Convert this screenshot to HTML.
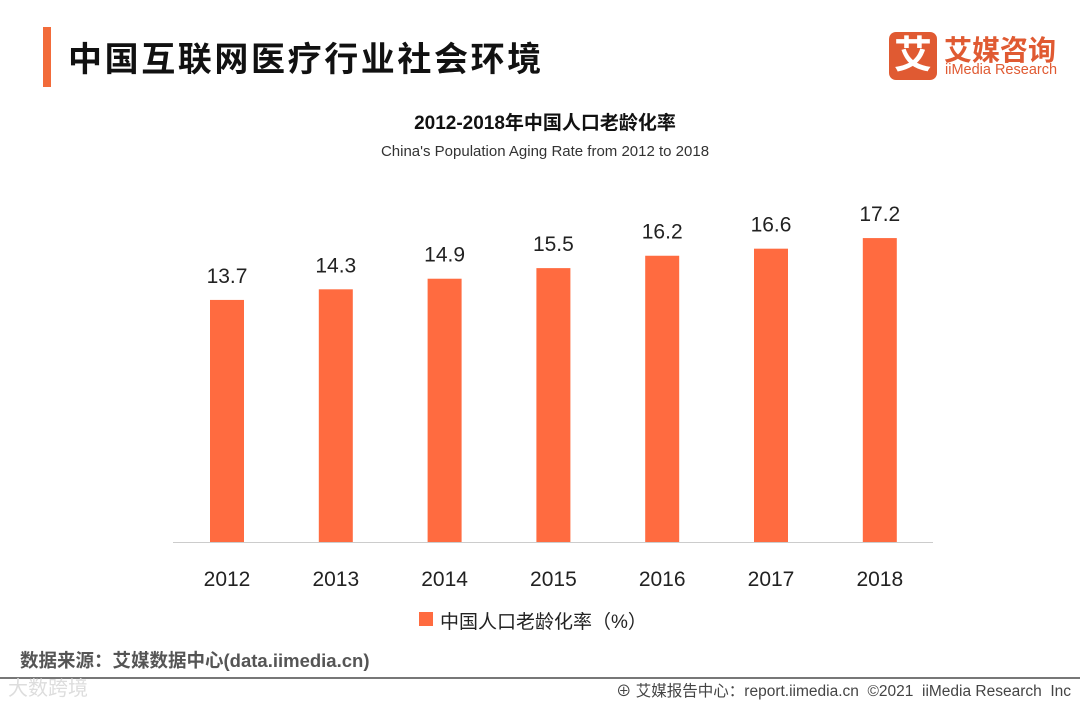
<!DOCTYPE html>
<html><head><meta charset="utf-8"><style>
body{margin:0;width:1080px;height:702px;background:#fff;position:relative;overflow:hidden;font-family:"Liberation Sans","Noto Sans CJK SC",sans-serif}
.a{position:absolute}
</style></head><body>
<div class="a" style="left:43px;top:27px;width:8px;height:60px;background:#f26b3a"></div>
<div class="a" style="left:68px;top:32px;font-size:34px;font-weight:bold;color:#111;letter-spacing:2.6px">中国互联网医疗行业社会环境</div>
<div class="a" style="left:889px;top:32px;width:170px;height:48px">
 <div class="a" style="left:0;top:0;width:48px;height:48px;background:#e05a32;border-radius:7px;color:#fff;font-size:38px;font-weight:bold;text-align:center;line-height:48px">艾</div>
 <div class="a" style="left:55px;top:-3px;font-size:28px;font-weight:bold;color:#e05a32;white-space:nowrap">艾媒咨询</div>
 <div class="a" style="left:56px;top:30px;font-size:14.5px;color:#e05a32;white-space:nowrap">iiMedia Research</div>
</div>
<div class="a" style="left:0;width:1090px;top:108px;text-align:center;font-size:19px;font-weight:bold;color:#111">2012-2018年中国人口老龄化率</div>
<div class="a" style="left:0;width:1090px;top:143px;text-align:center;font-size:15px;color:#333">China's Population Aging Rate from 2012 to 2018</div>
<svg class="a" style="left:0;top:0" width="1080" height="702" id="chart"></svg>
<div class="a" style="left:419px;top:612px;width:14px;height:14px;background:#ff6b40"></div>
<div class="a" style="left:440px;top:607px;font-size:19px;color:#222">中国人口老龄化率（%）</div>
<div class="a" style="left:20px;top:647px;font-size:18.5px;font-weight:bold;color:#555">数据来源：艾媒数据中心(data.iimedia.cn)</div>
<div class="a" style="left:0;top:677px;width:1080px;height:2px;background:#777"></div>
<div class="a" style="left:8px;top:672px;font-size:20px;color:#ddd">大数跨境</div>
<div class="a" style="left:616px;top:679px;font-size:15.5px;color:#444;white-space:nowrap">⊕ 艾媒报告中心：report.iimedia.cn &nbsp;©2021 &nbsp;iiMedia Research &nbsp;Inc</div>
<script>
const categories=["2012","2013","2014","2015","2016","2017","2018"];
const values=[13.7,14.3,14.9,15.5,16.2,16.6,17.2];
const svg=document.getElementById('chart');
const NS='http://www.w3.org/2000/svg';
const base=542,scale=17.67,x0=227,step=108.8,bw=34;
const y=v=>base-v*scale, x=i=>x0+i*step;
function mk(t,a){const e=document.createElementNS(NS,t);for(const k in a)e.setAttribute(k,a[k]);svg.appendChild(e);return e;}
const ax=mk('line',{x1:173,x2:933,y1:base+0.5,y2:base+0.5,stroke:'#ccc','stroke-width':1});


values.forEach((v,i)=>{
 const r=mk('rect',{x:x(i)-bw/2,y:y(v),width:bw,height:v*scale,fill:'#ff6b40'});
 
 
 const t=mk('text',{x:x(i),y:y(v)-17,'text-anchor':'middle','font-size':21,fill:'#222','font-family':'Liberation Sans, sans-serif'});
 t.textContent=v.toFixed(1);
 
 
 const c=mk('text',{x:x(i),y:586,'text-anchor':'middle','font-size':21,fill:'#222','font-family':'Liberation Sans, sans-serif'});
 c.textContent=categories[i];
 
 
});
</script>
</body></html>
